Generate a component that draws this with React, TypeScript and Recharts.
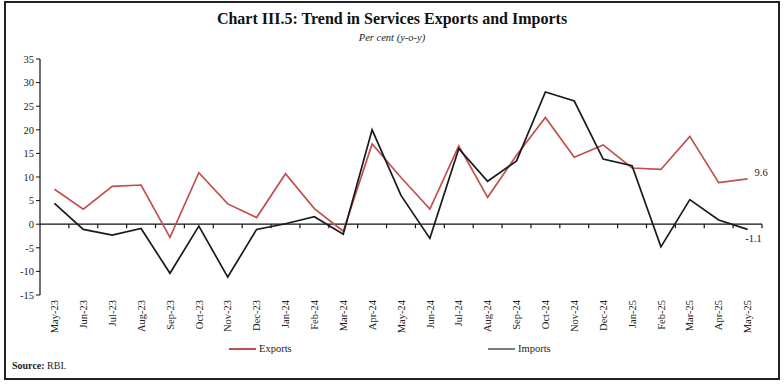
import { Line, LineChart, ReferenceLine, XAxis, YAxis } from "recharts";

const months = [
  "May-23", "Jun-23", "Jul-23", "Aug-23", "Sep-23", "Oct-23", "Nov-23", "Dec-23",
  "Jan-24", "Feb-24", "Mar-24", "Apr-24", "May-24", "Jun-24", "Jul-24", "Aug-24",
  "Sep-24", "Oct-24", "Nov-24", "Dec-24", "Jan-25", "Feb-25", "Mar-25", "Apr-25", "May-25",
];
const exportsGrowth = [
  7.4, 3.2, 8.0, 8.3, -2.8, 10.9, 4.3, 1.4, 10.7, 3.3, -1.5, 17.0, 9.9, 3.2, 16.6, 5.7,
  14.6, 22.6, 14.2, 16.8, 11.9, 11.6, 18.6, 8.8, 9.6,
];
const importsGrowth = [
  4.4, -1.1, -2.3, -0.9, -10.4, -0.4, -11.2, -1.1, 0.1, 1.6, -2.1, 20.0, 6.1, -3.0, 16.0, 9.1,
  13.4, 28.0, 26.1, 13.8, 12.4, -4.8, 5.2, 0.9, -1.1,
];
const yTicks = [-15, -10, -5, 0, 5, 10, 15, 20, 25, 30, 35];
const seriesNames = ["Exports", "Imports"];

const data = months.map((month, i) => ({
  i,
  month,
  exports: exportsGrowth[i],
  imports: importsGrowth[i],
}));

const RED = "#c0504d";
const BLACK = "#1a1a1a";
const FONT = "'Liberation Serif', 'DejaVu Serif', serif";
const last = months.length - 1;

function MonthTick(props: any) {
  const { x, y, payload } = props;
  return (
    <text
      transform={`translate(${x},${y}) rotate(-90)`}
      textAnchor="end"
      dy="0.35em"
      fontSize={10.5}
      fontFamily={FONT}
      fill="#222"
    >
      {months[payload.value]}
    </text>
  );
}

// zero line with small downward ticks between the months
function ZeroAxis(props: any) {
  const { x1, y1, x2 } = props;
  const step = (x2 - x1) / months.length;
  return (
    <g>
      <line x1={x1} y1={y1} x2={x2} y2={y1} stroke="#111" strokeWidth={1.3} />
      {months.map((_, k) => (
        <line key={k} x1={x1 + (k + 1) * step} x2={x1 + (k + 1) * step} y1={y1} y2={y1 + 4} stroke="#111" strokeWidth={1.2} />
      ))}
    </g>
  );
}

function EndLabel(props: any) {
  const { x, y, index, value, below } = props;
  if (index !== last) return null;
  return (
    <text
      x={below ? x + 6 : x + 7}
      y={below ? y + 13 : y - 3}
      textAnchor={below ? "middle" : "start"}
      fontSize={10.5}
      fontFamily={FONT}
      fill="#222"
    >
      {value}
    </text>
  );
}

export default function App() {
  return (
    <div style={{ position: "absolute", left: 0, top: 0, width: 784, height: 384, background: "#fff", fontFamily: FONT }}>
      <div style={{ position: "absolute", left: 4, top: 1, width: 772, height: 375, border: "2px solid #222" }} />
      <div style={{ position: "absolute", left: 0, top: 10, width: 784, textAlign: "center", fontSize: 16, fontWeight: "bold", color: "#111" }}>
        Chart III.5: Trend in Services Exports and Imports
      </div>
      <div style={{ position: "absolute", left: 0, top: 32, width: 784, textAlign: "center", fontSize: 10.5, fontStyle: "italic", color: "#222" }}>
        Per cent (y-o-y)
      </div>
      <div style={{ position: "absolute", left: 0, top: 0 }}>
        <LineChart width={784} height={384} data={data} margin={{ top: 59, right: 22, bottom: 0, left: 0 }}>
          <XAxis
            dataKey="i"
            type="number"
            domain={[-0.5, last + 0.5]}
            ticks={months.map((_, i) => i)}
            interval={0}
            axisLine={false}
            tickLine={false}
            tickSize={0}
            tickMargin={5}
            tick={<MonthTick />}
            height={89}
          />
          <YAxis
            domain={[-15, 35]}
            ticks={yTicks}
            interval={0}
            width={40}
            axisLine={{ stroke: "#111", strokeWidth: 1.2 }}
            tickLine={{ stroke: "#111" }}
            tickSize={4}
            tick={{ fontSize: 10.5, fontFamily: FONT, fill: "#222" }}
          />
          <ReferenceLine y={0} shape={<ZeroAxis />} />
          <Line
            dataKey="exports"
            name={seriesNames[0]}
            stroke={RED}
            strokeWidth={1.7}
            dot={false}
            isAnimationActive={false}
            label={<EndLabel />}
          />
          <Line
            dataKey="imports"
            name={seriesNames[1]}
            stroke={BLACK}
            strokeWidth={1.7}
            dot={false}
            isAnimationActive={false}
            label={<EndLabel below />}
          />
        </LineChart>
      </div>
      {[{ name: seriesNames[0], color: RED, left: 229 }, { name: seriesNames[1], color: "#7a7a7a", left: 488 }].map((s) => (
        <div key={s.name} style={{ position: "absolute", left: s.left, top: 343, display: "flex", alignItems: "center", fontSize: 10.5, color: "#222" }}>
          <span style={{ display: "inline-block", width: 27, height: 2, background: s.color, marginRight: 3 }} />
          {s.name}
        </div>
      ))}
      <div style={{ position: "absolute", left: 12, top: 360, fontSize: 10, color: "#222" }}>
        <b>Source:</b> RBI.
      </div>
    </div>
  );
}
